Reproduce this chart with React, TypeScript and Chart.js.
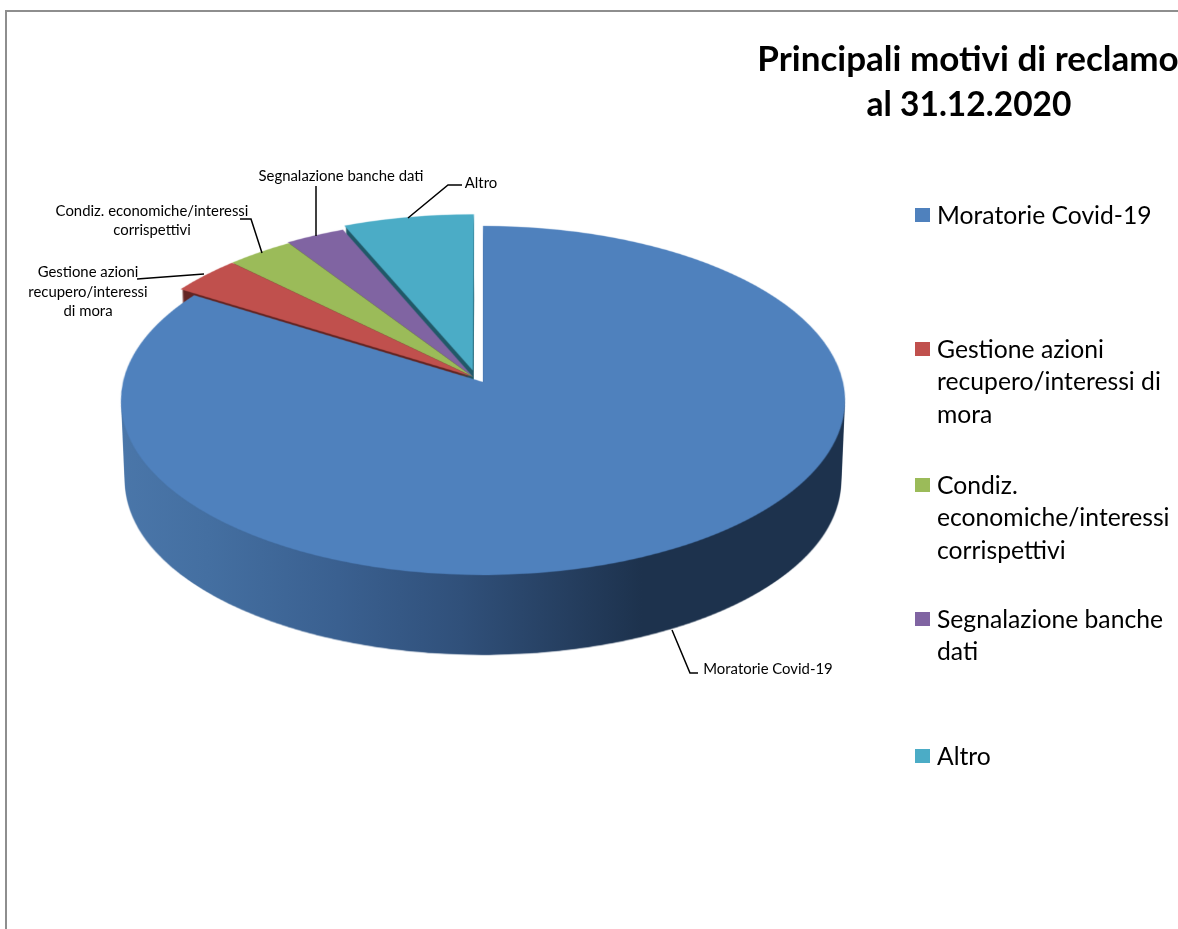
import React, { useEffect, useRef } from "react";
import { Chart, registerables } from "chart.js";

Chart.register(...registerables);

// ---- data ----
const categories = [
  "Moratorie Covid-19",
  "Gestione azioni recupero/interessi di mora",
  "Condiz. economiche/interessi corrispettivi",
  "Segnalazione banche dati",
  "Altro",
];
const values = [83.9, 3.5, 3.3, 2.9, 6.4];
const titleLines = ["Principali motivi di reclamo", "al 31.12.2020"];
const legendLines = [
  ["Moratorie Covid-19"],
  ["Gestione azioni", "recupero/interessi di", "mora"],
  ["Condiz.", "economiche/interessi", "corrispettivi"],
  ["Segnalazione banche", "dati"],
  ["Altro"],
];

// ---- styles ----
const topColors = ["#4f81bd", "#c0504d", "#9bbb59", "#8064a2", "#4bacc6"];
const wallColors = ["#1d324d", "#632523", "#4f6130", "#403152", "#215968"];
const FONT = "Lato, Carlito, sans-serif";
const W = 1178;
const H = 929;

// perspective fit of the pie disc
const APEX_X = 483;
const APEX_Y = 382;
const K = -0.106;
const A = 172.5;
const B = 360;
const DEPTH = 82;
const SS = 3;
// slice explosion as a fraction of the radius, and its radial stretch
const explode = [
  [0, 0],
  [-0.028, -0.03],
  [-0.028, -0.03],
  [-0.028, -0.03],
  [-0.028, -0.066],
];
const stretch = [1, 1.018, 1.018, 1.025, 1.017];
const legendY = [215, 349, 485, 619, 756];
const labelBlocks = [
  { lines: ["Moratorie Covid-19"], x: 768, y: [669] },
  { lines: ["Gestione azioni", "recupero/interessi", "di mora"], x: 88, y: [272, 292, 311] },
  { lines: ["Condiz. economiche/interessi", "corrispettivi"], x: 152, y: [211, 230] },
  { lines: ["Segnalazione banche dati"], x: 341, y: [176] },
  { lines: ["Altro"], x: 481, y: [183] },
];
const leaders = [
  [[672, 630], [690, 673], [698, 673]],
  [[204, 274], [137, 279]],
  [[262, 253], [251, 219], [240, 219]],
  [[316, 236], [316, 186]],
  [[408, 218], [448, 185], [462, 185]],
];

function makeCanvas(w: number, h: number) {
  const c = document.createElement("canvas");
  c.width = w;
  c.height = h;
  return c;
}

const pie3d = {
  id: "pie3d",
  beforeDatasetsDraw(chart: any) {
    const ctx: CanvasRenderingContext2D = chart.ctx;
    const arcs = chart.getDatasetMeta(0).data;
    const order = [4, 3, 2, 1, 0];
    for (const i of order) {
      const arc = arcs[i];
      const R = arc.outerRadius;
      const flat = makeCanvas(W, H);
      const fc = flat.getContext("2d")!;
      fc.translate(arc.x + explode[i][0] * R, arc.y + explode[i][1] * R);
      fc.scale(stretch[i], stretch[i]);
      fc.translate(-arc.x, -arc.y);
      arc.draw(fc);

      // perspective warp, row by row, supersampled
      const big = makeCanvas(W * SS, H * SS);
      const bc = big.getContext("2d")!;
      bc.imageSmoothingEnabled = true;
      bc.imageSmoothingQuality = "high";
      const rowToY = (r: number) => {
        const d = r / SS - APEX_Y;
        return d / (A - K * d);
      };
      for (let r = 0; r < H * SS; r++) {
        const Y0 = rowToY(r);
        if (Math.abs(Y0) > 1.2) continue;
        const Y1 = rowToY(r + 1);
        const sy0 = arc.y + Y0 * R;
        const sy1 = arc.y + Y1 * R;
        const sc = B / (R * (1 + K * Y0));
        const dx = APEX_X - arc.x * sc;
        bc.drawImage(flat, 0, sy0, W, sy1 - sy0, dx * SS, r, W * sc * SS, 1);
      }
      const slice = makeCanvas(W, H);
      const sc2 = slice.getContext("2d")!;
      sc2.imageSmoothingQuality = "high";
      sc2.drawImage(big, 0, 0, W, H);

      // eroded copy, so that soft edges do not pile up in the stack
      const core = makeCanvas(W, H);
      const cc = core.getContext("2d")!;
      cc.drawImage(slice, 0, 0);
      cc.globalCompositeOperation = "destination-in";
      cc.drawImage(slice, 1, 0);
      cc.drawImage(slice, -1, 0);

      // side wall: the slice stacked downwards
      const wall = makeCanvas(W, H);
      const wc = wall.getContext("2d")!;
      for (let s = DEPTH; s >= 1; s--) {
        const f = 1 - 0.01 * (s / DEPTH);
        wc.setTransform(f, 0, 0, f, APEX_X * (1 - f), 400 * (1 - f) + s);
        wc.drawImage(core, 0, 0);
      }
      wc.setTransform(1, 0, 0, 1, 0, 0);
      wc.globalCompositeOperation = "source-in";
      if (i === 0) {
        const g = wc.createLinearGradient(121, 0, 845, 0);
        g.addColorStop(0, "#4a76a9");
        g.addColorStop(0.12, "#446fa1");
        g.addColorStop(0.3, "#3a6090");
        g.addColorStop(0.47, "#30507a");
        g.addColorStop(0.62, "#253e5f");
        g.addColorStop(0.72, "#1d324d");
        g.addColorStop(1, "#1d324d");
        wc.fillStyle = g;
      } else {
        wc.fillStyle = wallColors[i];
      }
      wc.fillRect(0, 0, W, H);

      ctx.drawImage(wall, 0, 0);
      ctx.drawImage(slice, 0, 0);
    }
    return false;
  },
  afterDraw(chart: any) {
    const ctx: CanvasRenderingContext2D = chart.ctx;
    ctx.save();
    // frame
    ctx.strokeStyle = "#8e8e8e";
    ctx.lineWidth = 2;
    ctx.beginPath();
    ctx.moveTo(6, H);
    ctx.lineTo(6, 11);
    ctx.lineTo(W, 11);
    ctx.stroke();

    // title
    ctx.fillStyle = "#000";
    ctx.textAlign = "center";
    ctx.textBaseline = "middle";
    ctx.font = `bold 35px ${FONT}`;
    ctx.fillText(titleLines[0], 968, 60);
    ctx.fillText(titleLines[1], 969, 105, 205);

    // legend
    categories.forEach((_, i) => {
      ctx.fillStyle = topColors[i];
      ctx.fillRect(915, legendY[i] - 7, 15, 14);
      ctx.fillStyle = "#000";
      ctx.textAlign = "left";
      ctx.font = `24.7px ${FONT}`;
      legendLines[i].forEach((line, j) => {
        ctx.fillText(line, 937, legendY[i] + 1 + j * 32.5);
      });
    });

    // data labels and leader lines
    ctx.font = `14.9px ${FONT}`;
    ctx.textAlign = "center";
    labelBlocks.forEach((b) => {
      b.lines.forEach((line, j) => ctx.fillText(line, b.x, b.y[j]));
    });
    ctx.strokeStyle = "#000";
    ctx.lineWidth = 1.5;
    leaders.forEach((pts) => {
      ctx.beginPath();
      pts.forEach((p, j) => (j ? ctx.lineTo(p[0], p[1]) : ctx.moveTo(p[0], p[1])));
      ctx.stroke();
    });
    ctx.restore();
  },
};

export default function App() {
  const ref = useRef<HTMLCanvasElement>(null);
  useEffect(() => {
    document.body.style.margin = "0";
    const chart = new Chart(ref.current!, {
      type: "pie",
      data: {
        labels: categories,
        datasets: [{ data: values, backgroundColor: topColors, borderWidth: 0 }],
      },
      options: {
        responsive: false,
        animation: false,
        layout: { padding: 50 },
        plugins: { legend: { display: false }, tooltip: { enabled: false }, title: { display: false } },
      },
      plugins: [pie3d],
    } as any);
    return () => chart.destroy();
  }, []);
  return <canvas ref={ref} width={W} height={H} style={{ display: "block" }} />;
}
